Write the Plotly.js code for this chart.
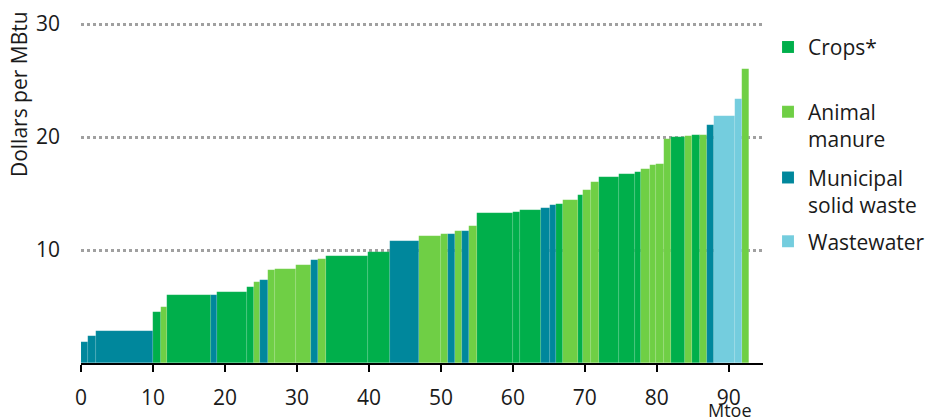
<!DOCTYPE html>
<html><head><meta charset="utf-8">
<script src="https://cdn.plot.ly/plotly-3.0.1.min.js"></script>
<style>html,body{margin:0;padding:0;background:#fff}#chart{width:927px;height:420px}</style>
</head><body><div id="chart"></div>
<script>
// Source categories and legend labels
const categories = ["Crops*", "Animal manure", "Municipal solid waste", "Wastewater"];
const legendLabels = ["Crops*", "Animal<br>manure", "Municipal<br>solid waste", "Wastewater"];
const categoryColors = ["#00AF4B", "#6FCF45", "#00879C", "#74CDDE"];

// Supply segments, in merit order: potential (Mtoe), cost (USD/MBtu), source
const segmentMtoe = [0.92, 1.18, 7.9, 1.1, 0.9, 6.0, 0.9, 4.1, 1.0, 0.9,
                     1.1, 1.0, 2.9, 2.1, 0.9, 1.2, 5.8, 3.0, 4.1, 3.0,
                     1.0, 1.0, 1.0, 0.9, 1.1, 5.0, 1.0, 2.9, 1.2, 0.9,
                     0.9, 2.1, 0.8, 1.1, 1.0, 2.9, 2.2, 0.8, 1.2, 0.9,
                     1.1, 1.0, 1.9, 1.0, 1.1, 0.9, 1.0, 2.9, 1.1, 0.95];
const segmentCost = [1.9, 2.4, 2.8, 4.5, 5.0, 6.0, 6.0, 6.3, 6.75, 7.2,
                     7.35, 8.2, 8.35, 8.65, 9.1, 9.2, 9.5, 9.8, 10.8, 11.25,
                     11.4, 11.4, 11.7, 11.7, 12.1, 13.3, 13.4, 13.55, 13.7, 14.0,
                     14.1, 14.4, 14.9, 15.3, 16.0, 16.5, 16.75, 16.9, 17.2, 17.5,
                     17.6, 19.8, 20.0, 20.1, 20.2, 20.2, 21.1, 21.9, 23.4, 26.0];
const segmentSource = ["Municipal solid waste", "Municipal solid waste", "Municipal solid waste", "Crops*", "Animal manure",
                       "Crops*", "Municipal solid waste", "Crops*", "Crops*", "Animal manure",
                       "Municipal solid waste", "Animal manure", "Animal manure", "Animal manure", "Municipal solid waste",
                       "Animal manure", "Crops*", "Crops*", "Municipal solid waste", "Animal manure",
                       "Animal manure", "Municipal solid waste", "Animal manure", "Municipal solid waste", "Animal manure",
                       "Crops*", "Crops*", "Crops*", "Municipal solid waste", "Municipal solid waste",
                       "Crops*", "Animal manure", "Crops*", "Animal manure", "Animal manure",
                       "Crops*", "Crops*", "Crops*", "Animal manure", "Animal manure",
                       "Animal manure", "Animal manure", "Crops*", "Animal manure", "Crops*",
                       "Animal manure", "Municipal solid waste", "Wastewater", "Wastewater", "Animal manure"];

const xTickVals = [0, 10, 20, 30, 40, 50, 60, 70, 80, 90];
const yTickVals = [10, 20, 30];

const FONT = "'Open Sans', sans-serif";
const TEXT = "#1a1a1a";

// cumulative positions
const starts = [];
let acc = 0;
segmentMtoe.forEach(w => { starts.push(acc); acc += w; });

const legendIds = ["legend", "legend2", "legend3", "legend4"];
const traces = categories.map((cat, ci) => {
  const idx = segmentSource.map((s, i) => s === cat ? i : -1).filter(i => i >= 0);
  return {
    type: "bar",
    name: legendLabels[ci],
    legend: legendIds[ci],
    x: idx.map(i => starts[i] + segmentMtoe[i] / 2),
    y: idx.map(i => segmentCost[i]),
    width: idx.map(i => segmentMtoe[i]),
    marker: {color: categoryColors[ci], line: {color: "rgba(255,255,255,0.18)", width: 0.5}},
    hovertemplate: cat + ": %{y} $/MBtu<extra></extra>"
  };
});

const legendY = [0.989, 0.798, 0.605, 0.417];
const legendCommon = {
  font: {family: FONT, size: 21, color: TEXT},
  bgcolor: "rgba(0,0,0,0)",
  xref: "container", x: 0.8285, xanchor: "left", yanchor: "top",
  itemwidth: 30, valign: "top", itemclick: false, itemdoubleclick: false
};
const layout = {
  width: 927, height: 420,
  margin: {l: 81, r: 164, t: 23, b: 57, autoexpand: false},
  paper_bgcolor: "#fff", plot_bgcolor: "#fff",
  barmode: "overlay", bargap: 0,
  font: {family: FONT, size: 21, color: TEXT},
  showlegend: true,
  xaxis: {
    range: [0, 94.75], tickvals: xTickVals, ticktext: xTickVals.map(String),
    showline: true, linecolor: "#000", linewidth: 2,
    ticks: "outside", ticklen: 7, tickwidth: 2, tickcolor: "#000",
    showgrid: false, zeroline: false, ticklabelstandoff: 8,
    tickfont: {family: FONT, size: 21, color: TEXT}
  },
  yaxis: {
    range: [0, 30.1], tickvals: yTickVals, ticktext: yTickVals.map(String),
    showline: false, zeroline: false, ticks: "",
    showgrid: true, gridcolor: "#a0a0a0", gridwidth: 2.5, griddash: "3px,3px",
    ticklabelstandoff: 20,
    tickfont: {family: FONT, size: 21, color: TEXT}
  },
  annotations: [
    {text: "Dollars per MBtu", textangle: -90, xref: "paper", yref: "paper",
     x: -0.0909, y: 0.791, xanchor: "center", yanchor: "middle", showarrow: false,
     font: {family: FONT, size: 21, color: TEXT}},
    {text: "Mtoe", xref: "paper", yref: "paper", x: 0.952, y: -0.138,
     xanchor: "center", yanchor: "middle", showarrow: false,
     font: {family: FONT, size: 18, color: TEXT}}
  ]
};
legendIds.forEach((id, i) => { layout[id] = Object.assign({}, legendCommon, {y: legendY[i]}); });

Plotly.newPlot("chart", traces, layout, {displayModeBar: false});
</script>
</body></html>
